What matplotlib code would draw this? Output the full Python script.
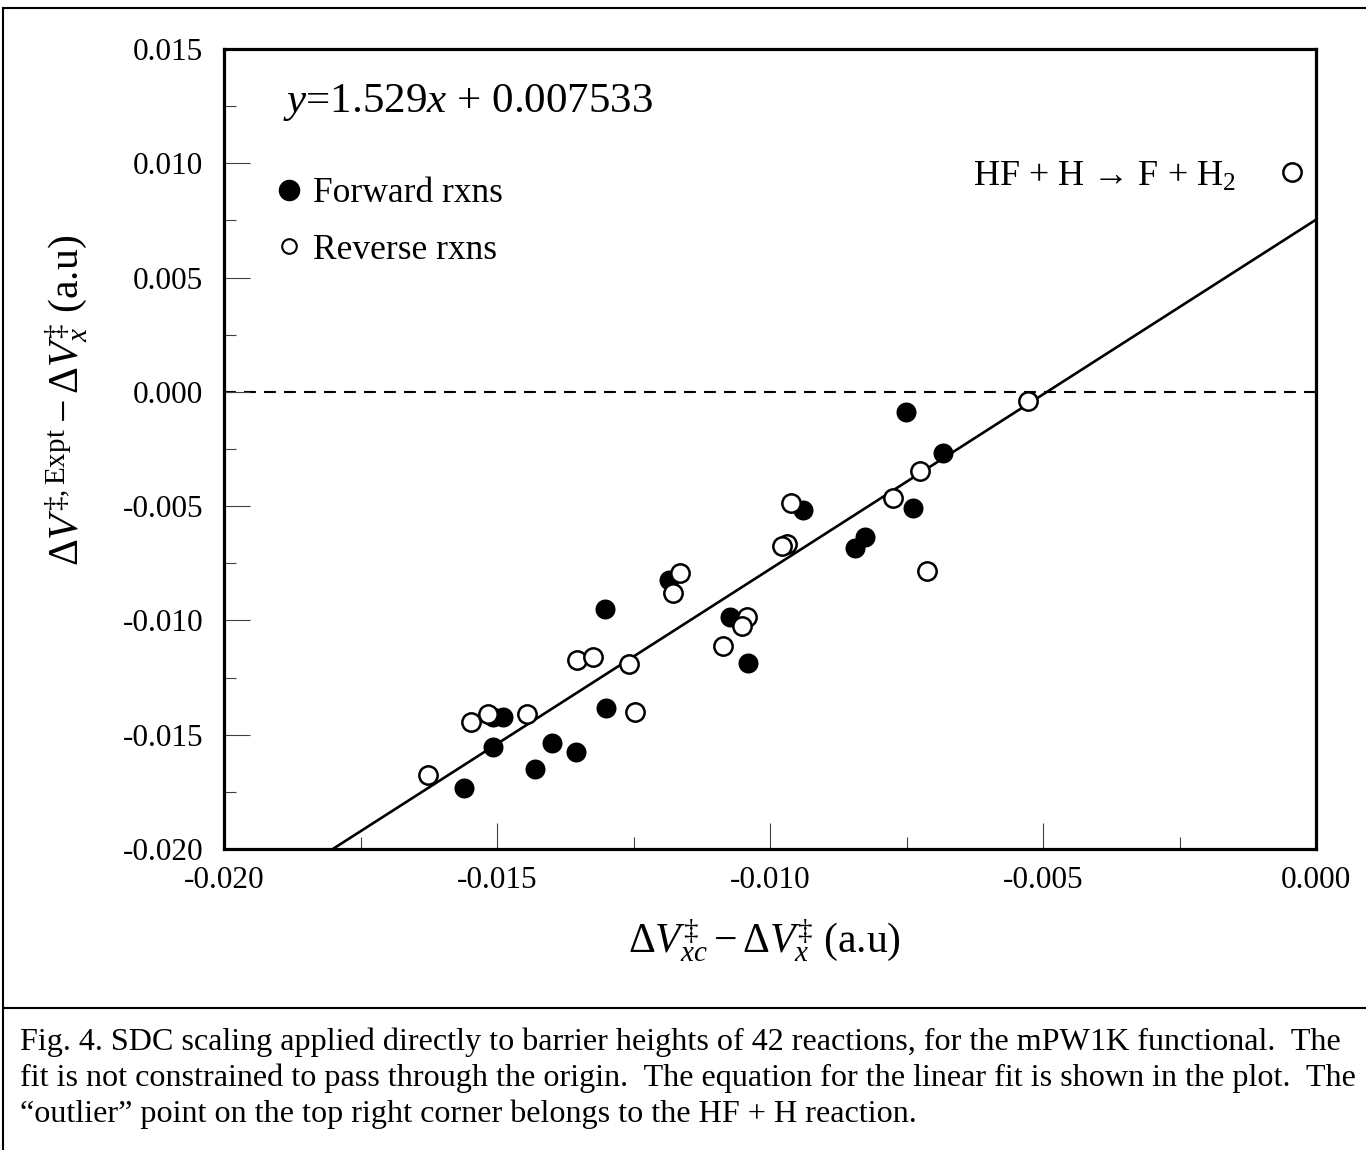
import numpy as np
import matplotlib
matplotlib.use("Agg")
import matplotlib.pyplot as plt
from matplotlib.lines import Line2D
from matplotlib.ticker import MultipleLocator, FormatStrFormatter

plt.rcParams['font.family'] = ['Liberation Serif', 'DejaVu Serif']
plt.rcParams['mathtext.fontset'] = 'custom'
plt.rcParams['mathtext.rm'] = 'Liberation Serif'
plt.rcParams['mathtext.it'] = 'Liberation Serif:italic'
plt.rcParams['mathtext.bf'] = 'Liberation Serif:bold'

# ---------------- data ----------------
fwd_x = [-0.00751, -0.00683, -0.00738, -0.00940, -0.00826, -0.00844, -0.01185,
         -0.01302, -0.01073, -0.01040, -0.01300, -0.01489, -0.01507, -0.01507,
         -0.01399, -0.01355, -0.01430, -0.01560]
fwd_y = [-0.00088, -0.00267, -0.00508, -0.00516, -0.00634, -0.00683, -0.00823,
         -0.00949, -0.00984, -0.01186, -0.01383, -0.01422, -0.01422, -0.01553,
         -0.01536, -0.01575, -0.01649, -0.01733]

rev_x = [-0.00044, -0.00527, -0.00725, -0.00775, -0.00962, -0.00712, -0.00969,
         -0.00978, -0.01165, -0.01178, -0.01042, -0.01051, -0.01086, -0.01354,
         -0.01324, -0.01258, -0.01247, -0.01445, -0.01516, -0.01548, -0.01626]
rev_y = [0.00963, -0.00039, -0.00346, -0.00464, -0.00486, -0.00783, -0.00665,
         -0.00674, -0.00792, -0.00879, -0.00984, -0.01024, -0.01111, -0.01173,
         -0.01159, -0.01190, -0.01400, -0.01409, -0.01409, -0.01444, -0.01676]

fit_slope = 1.529
fit_intercept = 0.007533

x_limits = [-0.020, 0.000]
y_limits = [-0.020, 0.015]

eq_text = r'$y$=1.529$x$ + 0.007533'
outlier_text = 'HF + H \u2192 F + H$_2$'
legend_labels = ['Forward rxns', 'Reverse rxns']
xlabel_text = r'$\Delta V_{xc}^{‡} - \Delta V_x^{‡}$ (a.u)'
ylabel_text = r'$\Delta V^{‡,\mathrm{Expt}} - \Delta V_x^{‡}$ (a.u)'
caption_lines = [
    "Fig. 4. SDC scaling applied directly to barrier heights of 42 reactions, for the mPW1K functional.  The",
    "fit is not constrained to pass through the origin.  The equation for the linear fit is shown in the plot.  The",
    "\u201coutlier\u201d point on the top right corner belongs to the HF + H reaction.",
]

# ---------------- figure ----------------
W, H = 1366, 1150
fig = plt.figure(figsize=(W / 100, H / 100), dpi=100)

def fx(px):
    return px / W

def fy(py):
    return 1 - py / H

ax = fig.add_axes([fx(224), fy(849), fx(1316) - fx(224), fy(49) - fy(849)])

ax.set_xlim(*x_limits)
ax.set_ylim(*y_limits)

# fit line
xf = np.array(x_limits)
ax.plot(xf, fit_slope * xf + fit_intercept, color='black', lw=1.9, zorder=2,
        solid_capstyle='butt')
# zero line
ax.axhline(0, color='black', lw=1.5, ls=(0, (5.7, 3.9)), zorder=1)

ax.plot(fwd_x, fwd_y, 'o', ms=14.4, mfc='black', mec='black', mew=0, zorder=3,
        clip_on=False)
ax.plot(rev_x, rev_y, 'o', ms=13.2, mfc='white', mec='black', mew=1.8, zorder=4,
        clip_on=False)

for s in ax.spines.values():
    s.set_linewidth(2.3)
    s.set_zorder(5)

ax.xaxis.set_major_locator(MultipleLocator(0.005))
ax.xaxis.set_minor_locator(MultipleLocator(0.0025))
ax.yaxis.set_major_locator(MultipleLocator(0.005))
ax.yaxis.set_minor_locator(MultipleLocator(0.0025))
ax.xaxis.set_major_formatter(FormatStrFormatter('%.3f'))
ax.yaxis.set_major_formatter(FormatStrFormatter('%.3f'))

ax.tick_params(which='both', direction='in', top=False, right=False,
               color='0.25', width=0.8)
ax.tick_params(which='major', length=18.5)
ax.tick_params(which='minor', length=8.6)
ax.tick_params(axis='x', which='major', labelsize=22.5, pad=12)
ax.tick_params(axis='y', which='major', labelsize=22.5, pad=15)

# equation
ax.text(0.054, 0.921, eq_text, transform=ax.transAxes, fontsize=31,
        ha='left', va='baseline')
# outlier label
ax.text(0.686, 0.829, outlier_text, transform=ax.transAxes, fontsize=26,
        ha='left', va='baseline')

# legend
h_f = Line2D([], [], ls='none', marker='o', ms=15.5, mfc='black', mec='black', mew=0)
h_r = Line2D([], [], ls='none', marker='o', ms=10.5, mfc='white', mec='black', mew=1.5)
leg = ax.legend([h_f, h_r], legend_labels, loc='upper left',
                bbox_to_anchor=(0.0498, 0.840), bbox_transform=ax.transAxes,
                frameon=False, fontsize=25.5, handlelength=0.6,
                handletextpad=0.38, labelspacing=0.67, borderpad=0,
                borderaxespad=0)

# axis labels
fig.text(fx(764), fy(940), xlabel_text, fontsize=30, ha='center', va='center')
fig.text(fx(66), fy(400), ylabel_text, fontsize=30, ha='center', va='center',
         rotation=90)

# outer frame (left and top) and separator
fig.add_artist(Line2D([fx(3), fx(3)], [fy(8), fy(1150)],
                      transform=fig.transFigure, color='black', lw=1.5))
fig.add_artist(Line2D([fx(3), fx(1366)], [fy(8), fy(8)],
                      transform=fig.transFigure, color='black', lw=1.5))
fig.add_artist(Line2D([fx(3), fx(1366)], [fy(1008), fy(1008)],
                      transform=fig.transFigure, color='black', lw=1.5))

# caption
for i, line in enumerate(caption_lines):
    fig.text(fx(20), fy(1050 + 36 * i), line, fontsize=23.1, ha='left',
             va='baseline')

fig.savefig('out.png', dpi=100)
